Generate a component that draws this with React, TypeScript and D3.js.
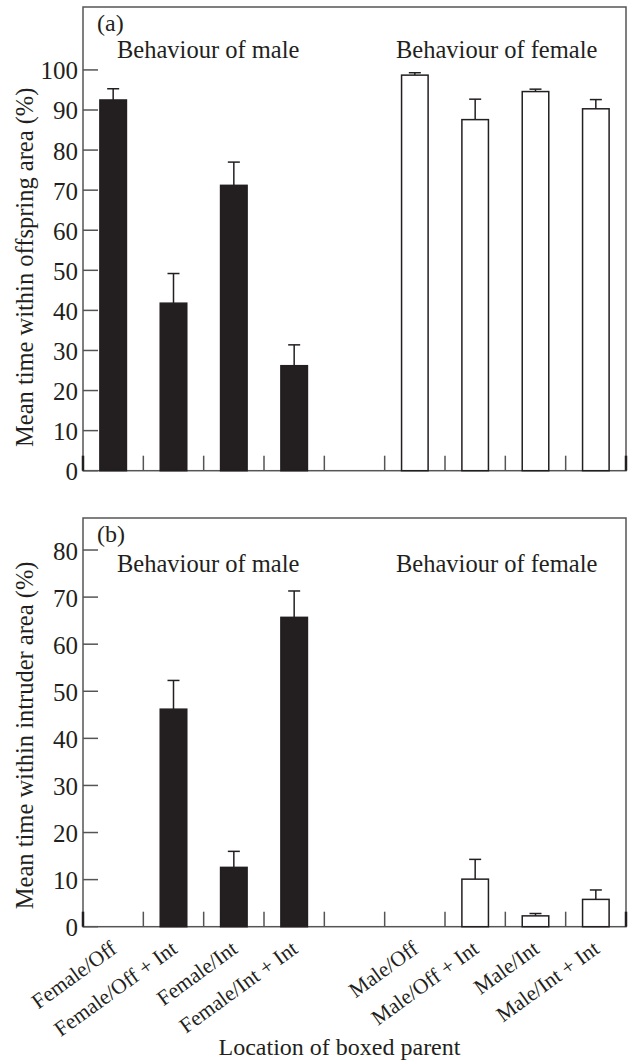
import React from "react";
import * as d3 from "d3";

// categories on the x axis (a blank slot separates male and female groups)
const maleCategories = ["Female/Off", "Female/Off + Int", "Female/Int", "Female/Int + Int"];
const femaleCategories = ["Male/Off", "Male/Off + Int", "Male/Int", "Male/Int + Int"];
const slots = [...maleCategories, "gap", ...femaleCategories];

// (a) mean time within offspring area (%)
const offspringMean = [92.5, 41.8, 71.2, 26.2, 98.7, 87.6, 94.6, 90.3];
const offspringSE = [2.8, 7.4, 5.8, 5.2, 0.6, 5.1, 0.6, 2.3];

// (b) mean time within intruder area (%)
const intruderMean = [0, 46.2, 12.6, 65.7, 0, 10.1, 2.3, 5.8];
const intruderSE = [0, 6.1, 3.4, 5.6, 0, 4.2, 0.5, 2.0];

const offspringTicks = d3.range(0, 101, 10);
const intruderTicks = d3.range(0, 81, 10);

const FONT = "'Liberation Serif', 'Times New Roman', serif";
const INK = "#231f20";
const AXIS = "#555";

const left = 83;
const right = 626;

const xScale = d3.scaleBand().domain(slots).range([left, right]).padding(0);
const barWidth = xScale.bandwidth() * 0.44;

const Panel = ({ tag, means, ses, yScale, ticks, yLabel, titleY }) => {
  const [y0, yTop] = yScale.range();
  const all = [...maleCategories, ...femaleCategories];
  const boundaries = slots.map((s) => xScale(s)).concat([right]);
  return (
    <g>
      {/* frame */}
      <rect
        x={left}
        y={yTop}
        width={right - left}
        height={y0 - yTop}
        fill="none"
        stroke={AXIS}
        strokeWidth={1.5}
      />
      {/* y ticks */}
      {ticks.map((t) => (
        <g key={t}>
          <line x1={left} x2={left + 15} y1={yScale(t)} y2={yScale(t)} stroke={AXIS} strokeWidth={1.5} />
          <text
            x={left - 5}
            y={yScale(t) + 1}
            textAnchor="end"
            dominantBaseline="central"
            fontFamily={FONT}
            fontSize={25}
            fill={INK}
          >
            {t}
          </text>
        </g>
      ))}
      {/* x boundary ticks */}
      {boundaries.map((bx, i) => (
        <line
          key={i}
          x1={bx}
          x2={bx}
          y1={y0}
          y2={y0 - 15}
          stroke={i === 0 || i === boundaries.length - 1 ? INK : AXIS}
          strokeWidth={i === 0 || i === boundaries.length - 1 ? 2.5 : 1.5}
        />
      ))}
      {/* bars */}
      {all.map((c, i) => {
        const v = means[i];
        if (!v) return null;
        const cx = xScale(c) + xScale.bandwidth() / 2;
        const filled = i < maleCategories.length;
        const top = yScale(v);
        const errTop = yScale(v + ses[i]);
        return (
          <g key={c}>
            <line x1={cx} x2={cx} y1={top} y2={errTop} stroke={INK} strokeWidth={1.5} />
            <line x1={cx - 6} x2={cx + 6} y1={errTop} y2={errTop} stroke={INK} strokeWidth={1.5} />
            <rect
              x={cx - barWidth / 2}
              y={top}
              width={barWidth}
              height={y0 - top}
              fill={filled ? INK : "#fff"}
              stroke={INK}
              strokeWidth={1.5}
            />
          </g>
        );
      })}
      {/* panel labels */}
      <text x={97} y={yTop + 24} fontFamily={FONT} fontSize={24} fill={INK}>
        {tag}
      </text>
      <text x={117} y={titleY} fontFamily={FONT} fontSize={24.5} fill={INK}>
        Behaviour of male
      </text>
      <text x={396} y={titleY} fontFamily={FONT} fontSize={24.5} fill={INK}>
        Behaviour of female
      </text>
      {/* y axis title */}
      <text
        transform={`translate(33,${(y0 + yScale(ticks[ticks.length - 1])) / 2 - 3}) rotate(-90)`}
        textAnchor="middle"
        fontFamily={FONT}
        fontSize={24.5}
        fill={INK}
      >
        {yLabel}
      </text>
    </g>
  );
};

export default function App() {
  const yTopPanel = d3.scaleLinear().domain([0, 115.7]).range([470.7, 7]);
  const yBottomPanel = d3.scaleLinear().domain([0, 86.8]).range([926.7, 518]);
  const y0 = yBottomPanel(0);
  const all = [...maleCategories, ...femaleCategories];

  return (
    <svg
      width={630}
      height={1062}
      style={{ position: "absolute", left: 0, top: 0, background: "#fff" }}
    >
      <Panel
        tag="(a)"
        means={offspringMean}
        ses={offspringSE}
        yScale={yTopPanel}
        ticks={offspringTicks}
        yLabel="Mean time within offspring area (%)"
        titleY={58}
      />
      <Panel
        tag="(b)"
        means={intruderMean}
        ses={intruderSE}
        yScale={yBottomPanel}
        ticks={intruderTicks}
        yLabel="Mean time within intruder area (%)"
        titleY={572}
      />
      {all.map((c) => {
        const cx = xScale(c) + xScale.bandwidth() / 2;
        return (
          <text
            key={c}
            transform={`translate(${cx + 5},${y0 + 25}) rotate(-36)`}
            textAnchor="end"
            fontFamily={FONT}
            fontSize={21.5}
            fill={INK}
          >
            {c}
          </text>
        );
      })}
      <text
        x={(left + right) / 2 - 15}
        y={1055}
        textAnchor="middle"
        fontFamily={FONT}
        fontSize={24}
        fill={INK}
      >
        Location of boxed parent
      </text>
    </svg>
  );
}
